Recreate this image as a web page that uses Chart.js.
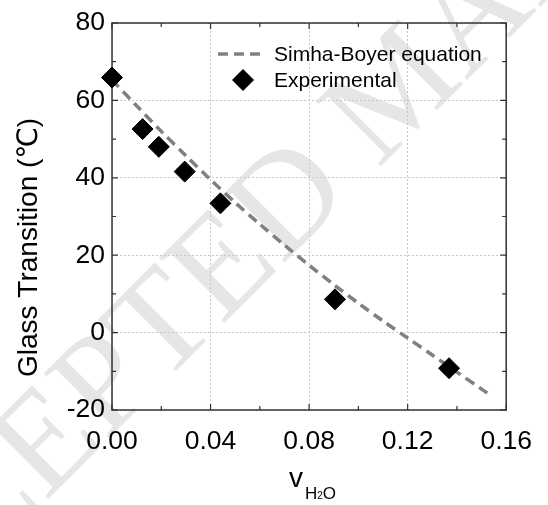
<!DOCTYPE html>
<html>
<head>
<meta charset="utf-8">
<script src="https://cdn.jsdelivr.net/npm/chart.js@4.4.1/dist/chart.umd.min.js"></script>
<style>
  html, body { margin: 0; padding: 0; background: #fff; }
  #wrap { width: 548px; height: 505px; }
</style>
</head>
<body>
<div id="wrap"><canvas id="tgChart" width="548" height="505"></canvas></div>
<script>
// experimental glass transition vs water volume fraction
const expVolFrac = [0.0, 0.0124, 0.0190, 0.0295, 0.0440, 0.0905, 0.1368];
const expTg = [65.9, 52.6, 48.0, 41.6, 33.4, 8.6, -9.2];

// Simha-Boyer curve
const fitVolFrac = [0.0, 0.01, 0.02, 0.03, 0.04, 0.05, 0.06, 0.07, 0.08, 0.09, 0.10, 0.11, 0.12, 0.13, 0.14, 0.15, 0.153];
const fitTg = [65.3, 58.6, 52.0, 45.7, 39.5, 33.6, 28.0, 22.6, 17.4, 12.4, 7.6, 3.0, -1.4, -5.8, -10.2, -14.6, -15.9];

// axis ticks
const xTicks = [0, 0.04, 0.08, 0.12, 0.16];
const xMinor = [0.02, 0.06, 0.10, 0.14];
const yTicks = [-20, 0, 20, 40, 60, 80];
const yMinor = [-10, 10, 30, 50, 70];

const SANS = "'Liberation Sans', Arial, 'DejaVu Sans', sans-serif";

function toPoints(xs, ys) {
    return xs.map((x, i) => ({ x: x, y: ys[i] }));
}

// watermark, frame, inward ticks, axis titles, legend
const decorPlugin = {
    id: 'decor',
    beforeDraw(chart) {
        const ctx = chart.ctx;
        ctx.save();
        ctx.fillStyle = '#ffffff';
        ctx.fillRect(0, 0, chart.width, chart.height);
        ctx.font = "140px 'Liberation Serif', 'DejaVu Serif', serif";
        const txt = 'ACCEPTED MANUSCRIPT';
        const pre = ctx.measureText('ACCEP').width + ctx.measureText('T').width / 2;
        ctx.translate(165, 330);
        ctx.rotate(-45 * Math.PI / 180);
        ctx.fillStyle = '#e6e6e6';
        ctx.textBaseline = 'middle';
        ctx.textAlign = 'left';
        ctx.fillText(txt, -pre, 0);
        ctx.restore();
    },
    beforeDatasetsDraw(chart) {
        const ctx = chart.ctx;
        const a = chart.chartArea;
        const xs = chart.scales.x, ys = chart.scales.y;
        ctx.save();
        ctx.strokeStyle = '#333333';
        ctx.lineWidth = 1.5;
        ctx.strokeRect(a.left, a.top, a.right - a.left, a.bottom - a.top);
        ctx.lineWidth = 1.2;
        ctx.beginPath();
        const tickX = (vals, len) => vals.forEach(v => {
            const px = xs.getPixelForValue(v);
            ctx.moveTo(px, a.bottom); ctx.lineTo(px, a.bottom - len);
            ctx.moveTo(px, a.top); ctx.lineTo(px, a.top + len);
        });
        const tickY = (vals, len) => vals.forEach(v => {
            const py = ys.getPixelForValue(v);
            ctx.moveTo(a.left, py); ctx.lineTo(a.left + len, py);
            ctx.moveTo(a.right, py); ctx.lineTo(a.right - len, py);
        });
        tickX(xTicks, 6); tickX(xMinor, 4);
        tickY(yTicks, 6); tickY(yMinor, 4);
        ctx.stroke();
        ctx.restore();
    },
    afterDraw(chart) {
        const ctx = chart.ctx;
        ctx.save();
        ctx.fillStyle = '#000';
        // y axis title
        ctx.save();
        ctx.translate(37, 377);
        ctx.rotate(-Math.PI / 2);
        ctx.font = '28px ' + SANS;
        ctx.textAlign = 'left';
        ctx.textBaseline = 'alphabetic';
        ctx.fillText('Glass Transition (\u2103)', 0, 0);
        ctx.restore();
        // x axis title: v with subscript H2O
        ctx.textAlign = 'left';
        ctx.textBaseline = 'alphabetic';
        let x = 289;
        ctx.font = '28px ' + SANS;
        ctx.fillText('v', x, 487);
        x += ctx.measureText('v').width + 2;
        ctx.font = '17px ' + SANS;
        ctx.fillText('H', x, 499);
        x += ctx.measureText('H').width;
        ctx.font = '10px ' + SANS;
        ctx.fillText('2', x, 499);
        x += ctx.measureText('2').width;
        ctx.font = '17px ' + SANS;
        ctx.fillText('O', x, 499);

        // legend
        const fitDs = chart.data.datasets[1];
        const expDs = chart.data.datasets[0];
        ctx.strokeStyle = fitDs.borderColor;
        ctx.lineWidth = fitDs.borderWidth;
        ctx.setLineDash(fitDs.borderDash);
        ctx.beginPath();
        ctx.moveTo(218, 54);
        ctx.lineTo(262, 54);
        ctx.stroke();
        ctx.setLineDash([]);
        ctx.strokeStyle = expDs.borderColor;
        ctx.fillStyle = expDs.backgroundColor;
        ctx.lineWidth = 1;
        Chart.helpers.drawPoint(ctx, {
            pointStyle: expDs.pointStyle, radius: expDs.pointRadius,
            borderWidth: 1, rotation: 0
        }, 243, 80);
        ctx.fillStyle = '#000';
        ctx.font = '21px ' + SANS;
        ctx.fillText(fitDs.label, 274, 61);
        ctx.fillText(expDs.label, 274, 87);
        ctx.restore();
    }
};

function createTgChart() {
    const ctx = document.getElementById('tgChart');

    const data = {
        datasets: [{
            label: 'Experimental',
            data: toPoints(expVolFrac, expTg),
            showLine: false,
            pointStyle: 'rectRot',
            pointRadius: 10.5,
            backgroundColor: '#000000',
            borderColor: '#000000',
            borderWidth: 1,
            clip: false,
            order: 0
        }, {
            label: 'Simha-Boyer equation',
            data: toPoints(fitVolFrac, fitTg),
            showLine: true,
            borderColor: '#808080',
            borderWidth: 3.5,
            borderDash: [10, 6],
            pointRadius: 0,
            tension: 0.3,
            order: 1
        }]
    };

    const tickFont = { family: SANS, size: 26.5 };

    new Chart(ctx, {
        type: 'scatter',
        data: data,
        options: {
            responsive: false,
            animation: false,
            events: [],
            layout: { padding: { top: 23, right: 31, left: 0, bottom: 0 } },
            plugins: {
                legend: { display: false },
                tooltip: { enabled: false }
            },
            scales: {
                x: {
                    type: 'linear',
                    min: 0,
                    max: 0.16,
                    afterBuildTicks: s => { s.ticks = xTicks.map(v => ({ value: v })); },
                    afterFit: s => { s.height = 95; },
                    grid: { color: '#c8c8c8', lineWidth: 1, drawTicks: false },
                    border: { display: false, dash: [2, 2] },
                    ticks: {
                        font: tickFont, color: '#000', padding: 16,
                        maxRotation: 0, autoSkip: false,
                        callback: v => Number(v).toFixed(2)
                    }
                },
                y: {
                    type: 'linear',
                    min: -20,
                    max: 80,
                    afterBuildTicks: s => { s.ticks = yTicks.map(v => ({ value: v })); },
                    afterFit: s => { s.width = 112; },
                    grid: { color: '#c8c8c8', lineWidth: 1, drawTicks: false },
                    border: { display: false, dash: [2, 2] },
                    ticks: {
                        font: tickFont, color: '#000', padding: 7,
                        autoSkip: false
                    }
                }
            }
        },
        plugins: [decorPlugin]
    });
}

document.addEventListener('DOMContentLoaded', () => {
    createTgChart();
});
</script>
</body>
</html>
